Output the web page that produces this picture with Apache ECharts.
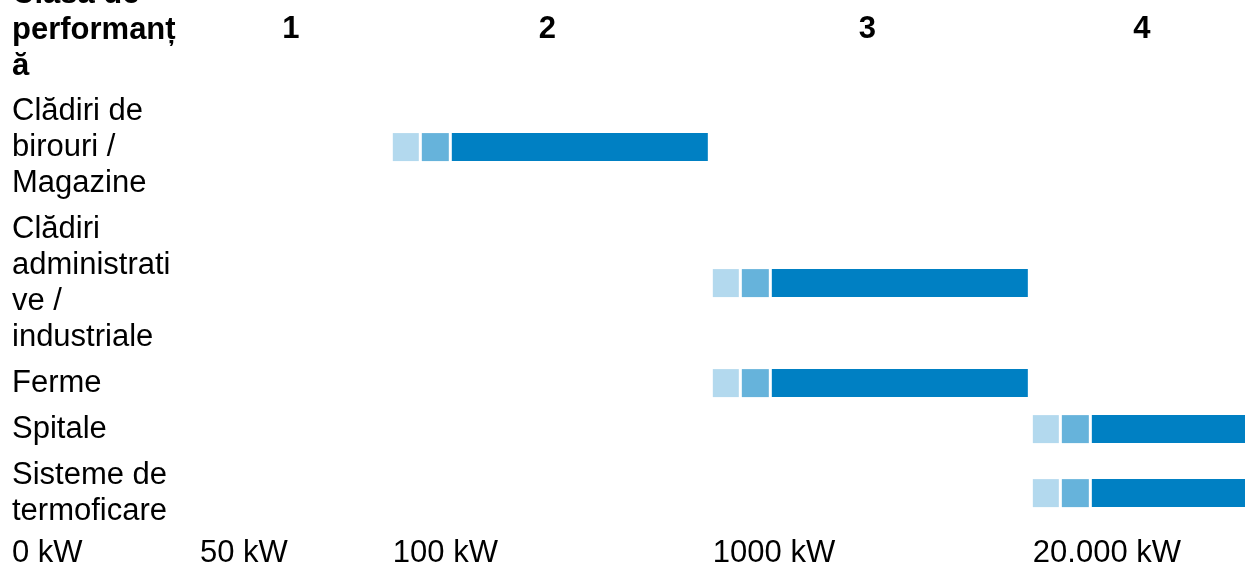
<!DOCTYPE html>
<html><head><meta charset="utf-8">
<script src="https://cdn.jsdelivr.net/npm/echarts@6/dist/echarts.min.js"></script>
<style>html,body{margin:0;padding:0;background:#fff}#c{width:1245px;height:567px}</style>
</head><body><div id="c"></div>
<script>
// ---- data ----
const headerLabel = 'Clasa de\nperformanț\nă';
const classLabels = ['1', '2', '3', '4'];
const categories = [
  'Clădiri de\nbirouri /\nMagazine',
  'Clădiri\nadministrati\nve /\nindustriale',
  'Ferme',
  'Spitale',
  'Sisteme de\ntermoficare'
];
const categoryClass = [2, 3, 3, 4, 4];
const powerLabels = ['0 kW', '50 kW', '100 kW', '1000 kW', '20.000 kW'];

// ---- layout / style ----
const FONT = '"Liberation Sans", Arial, sans-serif';
const FS = 31;
const LINE_PX = 36;            // px per text line (y axis unit)
const GAP = 0.278;             // gap between rows, in lines
const colEdges = [0, 0.5875, 1.19, 2.19, 3.19]; // x-axis scale edges of the columns
const X_MAX = 3.853;
const GRID_LEFT = 12, GRID_H = 534;
const Y_TOP = -0.72;
const COLORS = ['#b3d9ee', '#66b3db', '#0080c3'];

// row centres (in line units), derived from the number of text lines
const rowTexts = [headerLabel].concat(categories);
const rowCenters = [];
let start = Y_TOP;
rowTexts.forEach(t => {
  const n = t.split('\n').length;
  rowCenters.push(start + n / 2);
  start += n + GAP;
});

function textEl(x, y, text, bold, align) {
  return {
    type: 'text', x: x, y: y,
    style: {
      text: text, fill: '#000',
      font: (bold ? 'bold ' : '') + FS + 'px ' + FONT,
      align: align || 'left', verticalAlign: 'middle', lineHeight: LINE_PX
    }
  };
}

const chart = echarts.init(document.getElementById('c'), null, {renderer: 'canvas'});
chart.setOption({
  animation: false,
  backgroundColor: '#fff',
  grid: {left: GRID_LEFT, right: 0, top: 0, height: GRID_H, outerBoundsMode: 'none', containLabel: false},
  xAxis: {
    type: 'value', min: 0, max: X_MAX,
    axisLine: {show: false}, axisTick: {show: false}, splitLine: {show: false},
    axisLabel: {
      customValues: colEdges,
      formatter: v => powerLabels[colEdges.indexOf(v)],
      align: 'left', margin: 1,
      fontSize: FS, fontFamily: FONT, color: '#000', lineHeight: LINE_PX
    }
  },
  yAxis: {
    type: 'value', inverse: true, min: 0, max: GRID_H / LINE_PX, show: false
  },
  series: [
    {
      type: 'custom', name: 'header',
      data: classLabels.map((l, i) => [i + 1]),
      renderItem: (params, api) => {
        const c = api.value(0);
        const yc = rowCenters[0];
        const x0 = api.coord([colEdges[c], yc])[0];
        const x1 = c < 4 ? api.coord([colEdges[c + 1], yc])[0] - 5 : api.coord([X_MAX, yc])[0];
        const y = api.coord([0, yc])[1] + 1;
        const children = [textEl((x0 + x1) / 2 + (c < 4 ? -3 : 3), y, classLabels[c - 1], true, 'center')];
        if (params.dataIndex === 0) {
          children.push(textEl(api.coord([0, yc])[0], y + 1, headerLabel, true, 'left'));
        }
        return {type: 'group', children: children};
      }
    },
    {
      type: 'custom', name: 'rows',
      data: categoryClass.map((c, i) => [c, i]),
      renderItem: (params, api) => {
        const c = api.value(0);
        const i = api.value(1);
        const yc = rowCenters[i + 1];
        const p = api.coord([colEdges[c], yc]);
        const x0 = p[0];
        const x1 = c < 4 ? api.coord([colEdges[c + 1], yc])[0] - 5 : api.coord([X_MAX, yc])[0];
        const h = 28;
        const y = p[1] - h / 2 + 1;
        const segs = [[x0, x0 + 26], [x0 + 29, x0 + 56], [x0 + 59, x1]];
        const children = segs.map((s, k) => ({
          type: 'rect',
          shape: {x: s[0], y: y, width: s[1] - s[0], height: h},
          style: {fill: COLORS[k]}
        }));
        children.push(textEl(api.coord([0, yc])[0], p[1] + 1, categories[i], false, 'left'));
        return {type: 'group', children: children};
      }
    }
  ]
});
</script>
</body></html>
